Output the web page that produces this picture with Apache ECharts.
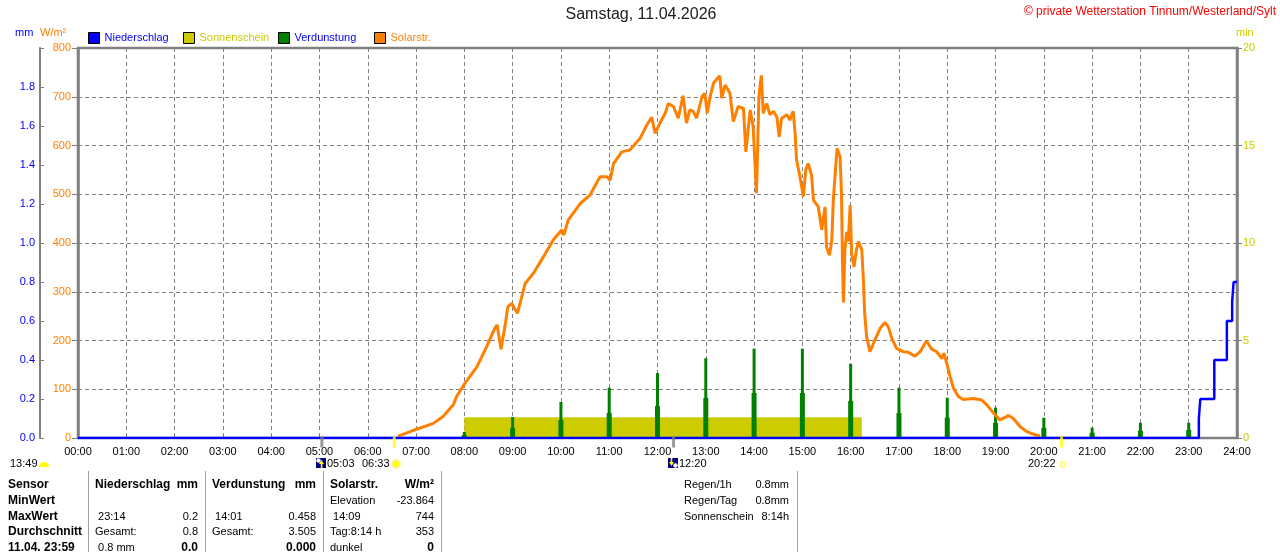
<!DOCTYPE html>
<html>
<head>
<meta charset="utf-8">
<title>Wetterstation Tinnum - Samstag, 11.04.2026</title>
<script src="https://cdn.jsdelivr.net/npm/echarts@6/dist/echarts.min.js"></script>
<style>
html, body { margin: 0; padding: 0; background: #fff; }
#chart { width: 1280px; height: 552px; }
</style>
</head>
<body>
<div id="chart"></div>
<script>
var solarTime = [6.63, 6.88, 7.01, 7.36, 7.56, 7.77, 7.84, 8.01, 8.26, 8.46, 8.63, 8.68, 8.76, 8.84, 8.90, 8.98,
	9.10, 9.19, 9.26, 9.43, 9.64, 9.84, 10.02, 10.06, 10.15, 10.40, 10.60, 10.81, 10.95, 11.02, 11.09, 11.26,
	11.43, 11.64, 11.78, 11.88, 11.95, 12.05, 12.16, 12.22, 12.33, 12.43, 12.53, 12.60, 12.67, 12.74, 12.81,
	12.92, 12.98, 13.03, 13.09, 13.16, 13.29, 13.33, 13.40, 13.50, 13.57, 13.67, 13.78, 13.83, 13.92, 13.98,
	14.05, 14.10, 14.15, 14.19, 14.26, 14.33, 14.40, 14.47, 14.52, 14.57, 14.68, 14.74, 14.81, 14.85, 14.88,
	14.95, 15.02, 15.07, 15.12, 15.19, 15.23, 15.33, 15.40, 15.47, 15.50, 15.56, 15.61, 15.64, 15.69, 15.72,
	15.78, 15.81, 15.83, 15.85, 15.88, 15.92, 15.95, 15.99, 16.02, 16.07, 16.12, 16.16, 16.23, 16.26, 16.29,
	16.33, 16.40, 16.50, 16.61, 16.71, 16.78, 16.85, 16.95, 17.09, 17.19, 17.33, 17.44, 17.57, 17.68, 17.78,
	17.89, 17.93, 17.99, 18.06, 18.13, 18.23, 18.33, 18.54, 18.71, 18.82, 18.96, 19.09, 19.27, 19.37, 19.51,
	19.65, 19.78, 19.92];
var solarValue = [4, 13, 18, 30, 44, 68, 85, 112, 146, 187, 225, 232, 182, 228, 269, 276,
	256, 290, 317, 338, 372, 406, 427, 416, 447, 481, 498, 536, 536, 529, 563, 587,
	591, 615, 642, 658, 625, 646, 666, 686, 680, 656, 702, 646, 673, 670, 656,
	700, 707, 666, 700, 728, 743, 697, 724, 707, 649, 680, 676, 587, 673, 639,
	502, 700, 744, 666, 686, 663, 670, 659, 618, 656, 663, 652, 670, 625, 570,
	536, 495, 550, 563, 539, 488, 474, 427, 474, 392, 375, 406, 488, 556, 594,
	577, 502, 365, 278, 386, 423, 403, 478, 379, 351, 386, 403, 386, 331, 256,
	208, 177, 201, 225, 237, 228, 205, 184, 177, 176, 168, 177, 199, 182, 177,
	163, 174, 153, 126, 102, 85, 79, 81, 78, 68, 51, 37, 46, 40, 23,
	13, 8, 4];

var verdHours = [8, 9, 10, 11, 12, 13, 14, 15, 16, 17, 18, 19, 20, 21, 22, 23];
var verdTop = [0.031, 0.108, 0.185, 0.258, 0.333, 0.409, 0.458, 0.458, 0.380, 0.258, 0.207, 0.156, 0.104, 0.053, 0.078, 0.078];
var verdLow = [0.015, 0.051, 0.092, 0.128, 0.164, 0.205, 0.231, 0.231, 0.190, 0.128, 0.104, 0.077, 0.051, 0.027, 0.037, 0.041];

// Niederschlag kumuliert (mm)
var regenTime = [0, 23.21, 23.24, 23.53, 23.79, 23.90, 23.93, 24];
var regenSum = [0, 0.1, 0.2, 0.4, 0.6, 0.7, 0.8, 0.8];

// Sonnenschein (min)
var sonneTime = [8.0, 16.23];
var sonneValue = [1.06, 1.06];

// Mond / Sonne Auf- und Untergang
var eventTimes = [5.05, 6.55, 12.333, 20.367];
var eventColors = ['#808080', '#FFFF00', '#808080', '#FFFF00'];

var legendNames = ['Niederschlag', 'Sonnenschein', 'Verdunstung', 'Solarstr.'];
var legendTextColors = ['#0000FF', '#CCCC00', '#0000FF', '#FF8000'];
var legendLeft = [88, 183, 278, 374];

// Tabelle unten
var tableY = [485, 501, 517, 532, 548];
var sensorCol = ['Sensor', 'MinWert', 'MaxWert', 'Durchschnitt', '11.04. 23:59'];
var nsLeft = ['Niederschlag', '', ' 23:14', 'Gesamt:', ' 0.8 mm'];
var nsRight = ['mm', '', '0.2', '0.8', '0.0'];
var vdLeft = ['Verdunstung', '', ' 14:01', 'Gesamt:', ''];
var vdRight = ['mm', '', '0.458', '3.505', '0.000'];
var solLeft = ['Solarstr.', 'Elevation', ' 14:09', 'Tag:8:14 h', 'dunkel'];
var solRight = ['W/m²', '-23.864', '744', '353', '0'];
var infoLeft = ['Regen/1h', 'Regen/Tag', 'Sonnenschein'];
var infoRight = ['0.8mm', '0.8mm', '8:14h'];

var FONT = "'Liberation Sans', Arial, sans-serif";

function pairs(xs, ys) {
	var out = [];
	for (var i = 0; i < xs.length; i++) {
		out.push([xs[i], ys[i]]);
	}
	return out;
}

function txt(x, y, s, color, size, bold, align) {
	return {
		type: 'text',
		silent: true,
		style: {
			x: x, y: y, text: s,
			fill: color || '#000',
			font: (bold ? 'bold ' : '') + (size || 11) + 'px ' + FONT,
			align: align || 'left', textAlign: align || 'left',
			verticalAlign: 'middle', textVerticalAlign: 'middle'
		}
	};
}

var graphics = [];
graphics.push(txt(641, 15, 'Samstag, 11.04.2026', '#202020', 16, false, 'center'));
graphics.push(txt(1276, 12, '© private Wetterstation Tinnum/Westerland/Sylt', '#FF0000', 12, false, 'right'));
graphics.push(txt(15, 33, 'mm', '#0000FF', 11));
graphics.push(txt(40, 33, 'W/m²', '#FF8000', 11));
graphics.push(txt(1236, 33, 'min', '#CCCC00', 11));

// Ereignisse unter der Achse
graphics.push(txt(10, 464, '13:49', '#000', 11));
graphics.push({ type: 'sector', silent: true, shape: { cx: 44, cy: 467, r: 5, startAngle: Math.PI, endAngle: 2 * Math.PI }, style: { fill: '#FFFF00' } });
graphics.push({ type: 'rect', silent: true, shape: { x: 316, y: 458, width: 10, height: 10 }, style: { fill: '#000080' } });
graphics.push({ type: 'circle', silent: true, shape: { cx: 318.5, cy: 460.5, r: 2.2 }, style: { fill: '#FFFFFF' } });
graphics.push({ type: 'polygon', silent: true, shape: { points: [[319, 464], [321.5, 460], [324, 464]] }, style: { fill: '#FFFF00' } });
graphics.push({ type: 'rect', silent: true, shape: { x: 320.8, y: 464, width: 1.6, height: 4 }, style: { fill: '#FFFF00' } });
graphics.push(txt(327, 464, '05:03', '#000', 11));
graphics.push(txt(362, 464, '06:33', '#000', 11));
graphics.push({ type: 'circle', silent: true, shape: { cx: 396, cy: 464, r: 4 }, style: { fill: '#FFFF00', stroke: '#FFF2A0', lineWidth: 2 } });
graphics.push({ type: 'rect', silent: true, shape: { x: 668, y: 458, width: 10, height: 10 }, style: { fill: '#000080' } });
graphics.push({ type: 'polygon', silent: true, shape: { points: [[669, 462], [671.5, 466], [674, 462]] }, style: { fill: '#FFFF00' } });
graphics.push({ type: 'rect', silent: true, shape: { x: 670.7, y: 458, width: 1.6, height: 4 }, style: { fill: '#FFFF00' } });
graphics.push({ type: 'circle', silent: true, shape: { cx: 675.5, cy: 465.5, r: 2.2 }, style: { fill: '#FFFFFF' } });
graphics.push(txt(679, 464, '12:20', '#000', 11));
graphics.push(txt(1028, 464, '20:22', '#000', 11));
graphics.push({ type: 'rect', silent: true, shape: { x: 1061, y: 462, width: 4, height: 5 }, style: { fill: 'none', stroke: '#FFFF00', lineWidth: 1 } });

// Tabelle
[88, 205, 323, 441, 797].forEach(function (x) {
	graphics.push({ type: 'line', silent: true, shape: { x1: x + 0.5, y1: 471, x2: x + 0.5, y2: 552 }, style: { stroke: '#A0A0A0', lineWidth: 1 } });
});
for (var r = 0; r < tableY.length; r++) {
	var y = tableY[r];
	var head = (r === 0);
	graphics.push(txt(8, y, sensorCol[r], '#000', 12, true));
	graphics.push(txt(95, y, nsLeft[r], '#000', head ? 12 : 11, head));
	graphics.push(txt(198, y, nsRight[r], '#000', head || r === 4 ? 12 : 11, head || r === 4, 'right'));
	graphics.push(txt(212, y, vdLeft[r], '#000', head ? 12 : 11, head));
	graphics.push(txt(316, y, vdRight[r], '#000', head || r === 4 ? 12 : 11, head || r === 4, 'right'));
	graphics.push(txt(330, y, solLeft[r], '#000', head ? 12 : 11, head));
	graphics.push(txt(434, y, solRight[r], '#000', head || r === 4 ? 12 : 11, head || r === 4, 'right'));
}
for (var k = 0; k < infoLeft.length; k++) {
	graphics.push(txt(684, tableY[k], infoLeft[k], '#000', 11));
	graphics.push(txt(789, tableY[k], infoRight[k], '#000', 11, false, 'right'));
}

var myChart = echarts.init(document.getElementById('chart'));

var option = {
	animation: false,
	backgroundColor: '#fff',
	textStyle: { fontFamily: FONT },
	grid: {
		left: 78, right: 43, top: 48, bottom: 114,
		show: true, borderColor: '#808080', borderWidth: 2.5,
		containLabel: false
	},
	legend: legendNames.map(function (name, i) {
		return {
			data: [{ name: name, textStyle: { color: legendTextColors[i] } }],
			left: legendLeft[i], top: 32,
			padding: 0,
			icon: 'rect',
			itemWidth: 11, itemHeight: 11,
			itemStyle: { borderColor: '#000', borderWidth: 1 },
			lineStyle: { width: 0 },
			textStyle: { fontSize: 11, fontFamily: FONT }
		};
	}),
	xAxis: [
		{
			type: 'value', min: 0, max: 24, interval: 1,
			axisLine: { show: true, onZero: false, lineStyle: { color: '#808080', width: 2 } },
			axisTick: { show: false },
			axisLabel: {
				color: '#000', fontSize: 11, margin: 8, showMaxLabel: true,
				formatter: function (v) { return (v < 10 ? '0' : '') + v + ':00'; }
			},
			splitLine: { show: true, lineStyle: { color: '#808080', type: [4, 3], width: 1 } }
		},
		{
			type: 'value', min: 0, max: 24, show: false
		}
	],
	yAxis: [
		{
			type: 'value', position: 'left', offset: 38, min: 0, max: 2, interval: 0.2,
			axisLine: { show: true, onZero: false, lineStyle: { color: '#808080', width: 2 } },
			axisTick: { show: true, inside: true, length: 4, lineStyle: { color: '#808080' } },
			axisLabel: {
				color: '#0000FF', fontSize: 11, margin: 5,
				formatter: function (v) { return v >= 1.99 ? '' : v.toFixed(1); }
			},
			splitLine: { show: false }
		},
		{
			type: 'value', position: 'left', min: 0, max: 800, interval: 100,
			axisLine: { show: true, onZero: false, lineStyle: { color: '#808080', width: 2.5 } },
			axisTick: { show: true, length: 6, lineStyle: { color: '#808080' } },
			axisLabel: { color: '#FF8000', fontSize: 11, margin: 7 },
			splitLine: { show: true, lineStyle: { color: '#808080', type: [4, 3], width: 1 } }
		},
		{
			type: 'value', position: 'right', min: 0, max: 20, interval: 5,
			axisLine: { show: true, onZero: false, lineStyle: { color: '#808080', width: 2.5 } },
			axisTick: { show: true, length: 5, lineStyle: { color: '#808080' } },
			axisLabel: { color: '#CCCC00', fontSize: 11, margin: 6 },
			splitLine: { show: false }
		}
	],
	series: [
		{
			name: 'Sonnenschein',
			type: 'line',
			xAxisIndex: 0, yAxisIndex: 2,
			data: pairs(sonneTime, sonneValue),
			showSymbol: false,
			itemStyle: { color: '#CCCC00' },
			lineStyle: { width: 0, color: '#CCCC00' },
			areaStyle: { color: '#CCCC00', opacity: 1 },
			z: 1
		},
		{
			name: 'Verdunstung',
			type: 'bar',
			xAxisIndex: 0, yAxisIndex: 0,
			data: pairs(verdHours, verdTop),
			barWidth: 3,
			itemStyle: { color: '#008000' },
			z: 2
		},
		{
			name: 'Verdunstung',
			type: 'bar',
			xAxisIndex: 1, yAxisIndex: 0,
			data: pairs(verdHours, verdLow),
			barWidth: 5,
			itemStyle: { color: '#008000' },
			z: 2
		},
		{
			name: 'Solarstr.',
			type: 'line',
			xAxisIndex: 0, yAxisIndex: 1,
			data: pairs(solarTime, solarValue),
			showSymbol: false,
			itemStyle: { color: '#FF8000' },
			lineStyle: { width: 3, color: '#FF8000' },
			z: 3
		},
		{
			name: 'Niederschlag',
			type: 'line',
			xAxisIndex: 0, yAxisIndex: 0,
			data: pairs(regenTime, regenSum),
			step: 'end',
			showSymbol: false,
			itemStyle: { color: '#0000FF' },
			lineStyle: { width: 2.5, color: '#0000FF' },
			z: 4
		},
		{
			name: 'Ereignisse',
			type: 'scatter',
			xAxisIndex: 0, yAxisIndex: 1,
			clip: false,
			silent: true,
			data: eventTimes.map(function (t, i) {
				return { value: [t, 0], itemStyle: { color: eventColors[i] } };
			}),
			symbol: 'rect',
			symbolSize: [3, 11],
			symbolOffset: [0, 4],
			z: 5
		}
	],
	graphic: graphics
};

myChart.setOption(option);
</script>
</body>
</html>
